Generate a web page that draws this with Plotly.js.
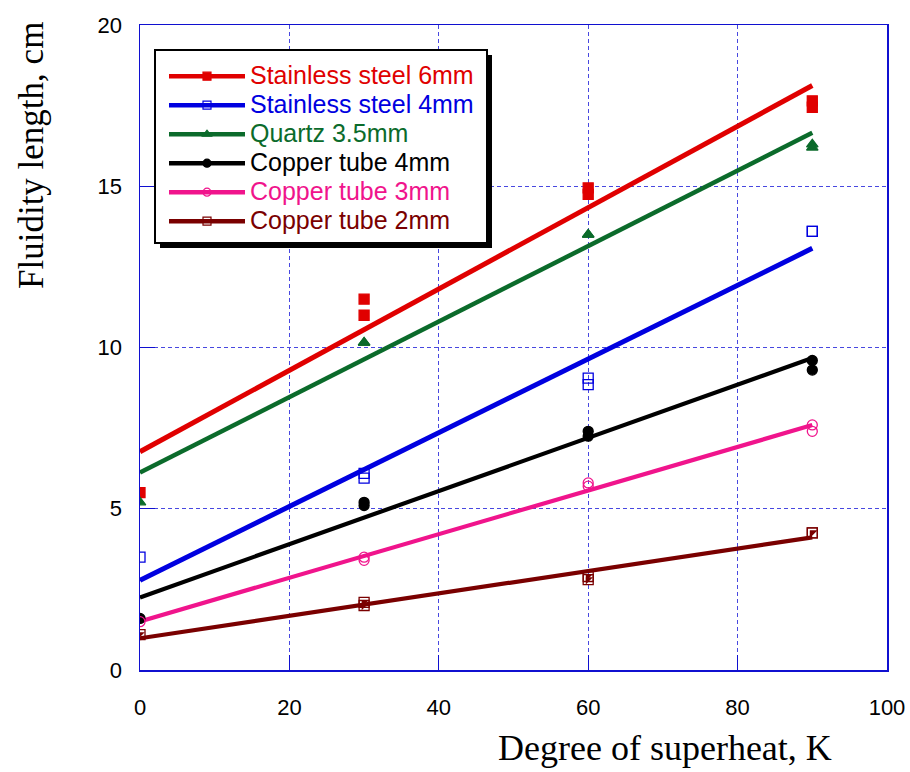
<!DOCTYPE html>
<html><head><meta charset="utf-8">
<script src="https://cdn.plot.ly/plotly-3.0.1.min.js"></script>
<style>body{margin:0;background:#fff}</style>
</head><body><div id="chart" style="width:910px;height:772px"></div>
<script>
// ---- data ----
const seriesNames = ["Stainless steel 6mm", "Stainless steel 4mm", "Quartz 3.5mm", "Copper tube 4mm", "Copper tube 3mm", "Copper tube 2mm"];
const seriesColors = ["#e00000", "#0000e0", "#0b6b2b", "#000000", "#f0148c", "#7a0000"];
const seriesSymbols = ["square", "square-open", "triangle-up", "circle", "circle-open", "square-open"];
const xValues = [0, 30, 30, 60, 60, 90, 90];
const steel6 = [5.5, 11.5, 11.0, 14.95, 14.75, 17.65, 17.45];
const steel4 = [3.5, 6.1, 5.95, 9.05, 8.85, 13.6, 13.6];
const quartz35 = [5.2, 10.15, 10.15, 13.5, 13.5, 16.3, 16.2];
const copper4 = [1.6, 5.2, 5.1, 7.4, 7.25, 9.6, 9.3];
const copper3 = [1.5, 3.5, 3.4, 5.8, 5.7, 7.6, 7.4];
const copper2 = [1.1, 2.1, 2.0, 2.9, 2.8, 4.25, 4.25];
const fitRange = [0, 90];
const xTicks = [0, 20, 40, 60, 80, 100];
const yTicks = [0, 5, 10, 15, 20];

const seriesValues = [steel6, steel4, quartz35, copper4, copper3, copper2];
const lineWidths = [5, 5, 4.5, 4.2, 4.2, 4.2];

function linearFit(xs, ys) {
  const n = xs.length;
  const mx = xs.reduce((a, b) => a + b, 0) / n;
  const my = ys.reduce((a, b) => a + b, 0) / n;
  let sxy = 0, sxx = 0;
  for (let i = 0; i < n; i++) { sxy += (xs[i] - mx) * (ys[i] - my); sxx += (xs[i] - mx) ** 2; }
  const b = sxy / sxx;
  return [my - b * mx, b];
}

const traces = [];
// fit lines
seriesValues.forEach((ys, i) => {
  const [a, b] = linearFit(xValues, ys);
  traces.push({
    x: fitRange, y: fitRange.map(x => a + b * x), mode: "lines",
    line: {color: seriesColors[i], width: lineWidths[i]}, showlegend: false, hoverinfo: "skip"
  });
});
// measured points
seriesValues.forEach((ys, i) => {
  traces.push({
    x: xValues, y: ys, mode: "markers", showlegend: false,
    marker: {symbol: seriesSymbols[i], color: seriesColors[i], size: 10, line: {color: seriesColors[i], width: 1.3}}
  });
});
// half-filled part of copper 2mm marker
traces.push({
  x: xValues, y: copper2, mode: "markers", showlegend: false,
  marker: {symbol: "triangle-nw", color: seriesColors[5], size: 8, line: {width: 0}}
});
// legend entries
seriesNames.forEach((name, i) => {
  traces.push({
    x: [null], y: [null], mode: "lines+markers",
    name: '<span style="color:' + seriesColors[i] + ';font-size:25px">' + name + '</span>',
    line: {color: seriesColors[i], width: 4.5},
    marker: {symbol: seriesSymbols[i], color: seriesColors[i], size: 8, line: {color: seriesColors[i], width: 1.2}}
  });
});

// pixel -> paper helpers for the legend frame (plot area: x 140..887, y 25..670)
const px = v => (v - 140) / 747;
const py = v => (670 - v) / 645;

const axisColor = "#1010d0";
const gridColor = "#4848e0";
const layout = {
  width: 910, height: 772,
  margin: {l: 140, r: 23, t: 25, b: 102},
  paper_bgcolor: "#ffffff", plot_bgcolor: "#ffffff",
  font: {family: "Liberation Sans, Arial, sans-serif", color: "#000"},
  xaxis: {
    range: [0, 100], tickvals: xTicks, ticktext: xTicks.map(String),
    showline: true, linecolor: axisColor, linewidth: 1.5, mirror: true,
    ticks: "inside", ticklen: 15, tickcolor: axisColor, tickwidth: 1.2,
    showgrid: true, gridcolor: gridColor, griddash: "4px,3px", gridwidth: 1,
    zeroline: false, tickfont: {size: 22, family: "Liberation Sans, Arial, sans-serif"},
    ticklabelstandoff: 17
  },
  yaxis: {
    range: [0, 20], tickvals: yTicks, ticktext: yTicks.map(String),
    showline: true, linecolor: axisColor, linewidth: 1.5, mirror: true,
    ticks: "inside", ticklen: 15, tickcolor: axisColor, tickwidth: 1.2,
    showgrid: true, gridcolor: gridColor, griddash: "4px,3px", gridwidth: 1,
    zeroline: false, tickfont: {size: 22, family: "Liberation Sans, Arial, sans-serif"},
    ticklabelstandoff: 12
  },
  legend: {
    x: px(164), y: py(56.7), xanchor: "left", yanchor: "top",
    bgcolor: "rgba(0,0,0,0)", borderwidth: 0,
    font: {size: 20, family: "Liberation Sans, Arial, sans-serif"},
    itemwidth: 76, tracegroupgap: 0
  },
  shapes: [
    {type: "rect", xref: "paper", yref: "paper",
     x0: px(160), x1: px(492), y0: py(248), y1: py(55),
     fillcolor: "#000", line: {width: 0}, layer: "above"},
    {type: "rect", xref: "paper", yref: "paper",
     x0: px(155), x1: px(487), y0: py(243), y1: py(50),
     fillcolor: "#fff", line: {width: 2, color: "#000"}, layer: "above"}
  ],
  annotations: [
    {text: "Degree of superheat, K", xref: "paper", yref: "paper", x: px(664.5), y: py(748),
     xanchor: "center", yanchor: "middle", showarrow: false,
     font: {family: "Liberation Serif, Times New Roman, serif", size: 36, color: "#000"}},
    {text: "Fluidity length, cm", xref: "paper", yref: "paper", x: px(31), y: py(155),
     xanchor: "center", yanchor: "middle", showarrow: false, textangle: -90,
     font: {family: "Liberation Serif, Times New Roman, serif", size: 35, color: "#000"}}
  ]
};

Plotly.newPlot("chart", traces, layout, {displayModeBar: false, staticPlot: true});
</script>
</body></html>
